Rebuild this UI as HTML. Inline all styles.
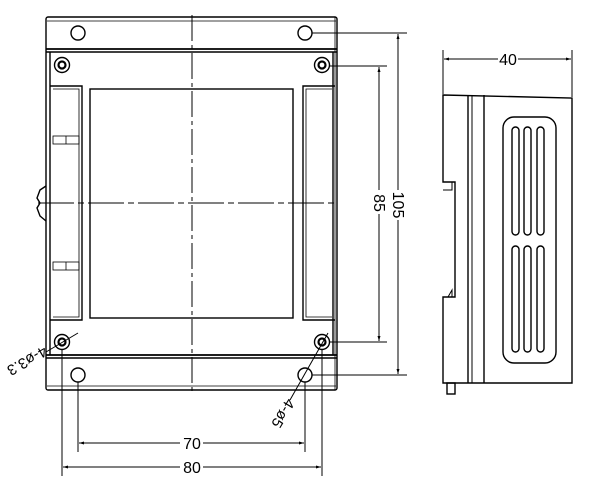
<!DOCTYPE html>
<html><head><style>html,body{margin:0;padding:0;background:#fff}svg{display:block}</style></head>
<body>
<svg width="600" height="487" viewBox="0 0 600 487" xmlns="http://www.w3.org/2000/svg" font-family="Liberation Sans, sans-serif">
<defs>
<marker id="a" viewBox="0 0 10 10" refX="10" refY="5" markerWidth="7" markerHeight="5" orient="auto-start-reverse"><path d="M0,2 L10,5 L0,8 Z" fill="#000"/></marker>
</defs>
<g fill="none" stroke="#000" stroke-width="1.4">
<rect x="46" y="17" width="291" height="373" rx="2"/>
<line x1="47" y1="21" x2="336" y2="21" stroke-width="0.8"/>
<line x1="46" y1="49" x2="337" y2="49" stroke-width="1.8"/>
<line x1="46" y1="52" x2="337" y2="52"/>
<line x1="46" y1="355" x2="337" y2="355" stroke-width="1.8"/>
<line x1="46" y1="358" x2="337" y2="358"/>
<line x1="47" y1="386" x2="336" y2="386" stroke-width="0.8"/>
<line x1="50" y1="52" x2="50" y2="355"/>
<line x1="333" y1="52" x2="333" y2="355"/>
<line x1="335" y1="17" x2="335" y2="390" stroke-width="0.8"/>
<path d="M50,86 L82,86 L82,320 L50,320"/>
<path d="M53,89 L79,89 L79,317 L53,317" stroke-width="0.8"/>
<path d="M335,86 L303,86 L303,320 L335,320"/>
<path d="M332,89 L306,89 L306,317 L332,317" stroke-width="0.8"/>
<rect x="53" y="136" width="26" height="8" stroke-width="0.8"/>
<line x1="66" y1="136" x2="66" y2="144" stroke-width="0.8"/>
<rect x="53" y="262" width="26" height="8" stroke-width="0.8"/>
<line x1="66" y1="262" x2="66" y2="270" stroke-width="0.8"/>
<path d="M46,186 L40,190 L37,198 L40,203 L37,208 L40,216 L46,221"/>
<rect x="90" y="89" width="203" height="229"/>
<line x1="192" y1="15" x2="192" y2="392" stroke-width="1" stroke-dasharray="26,4,4,4"/>
<line x1="38" y1="203" x2="337" y2="203" stroke-width="1" stroke-dasharray="36,4,6,4"/>
<circle cx="78" cy="33" r="7"/><circle cx="305" cy="33" r="7"/>
<circle cx="78" cy="375" r="7"/><circle cx="305" cy="375" r="7"/>
<circle cx="62" cy="65" r="7.5"/><circle cx="62" cy="65" r="3.5" stroke-width="2.2"/>
<circle cx="322" cy="65" r="7.5"/><circle cx="322" cy="65" r="3.5" stroke-width="2.2"/>
<circle cx="62" cy="342" r="7.5"/><circle cx="62" cy="342" r="3.5" stroke-width="2.2"/>
<circle cx="322" cy="342" r="7.5"/><circle cx="322" cy="342" r="3.5" stroke-width="2.2"/>
<line x1="78" y1="333" x2="46" y2="352" stroke-width="1"/>
<line x1="328" y1="333" x2="290" y2="400" stroke-width="1"/>
<line x1="312" y1="33" x2="407" y2="33" stroke-width="1"/>
<line x1="312" y1="375" x2="407" y2="375" stroke-width="1"/>
<line x1="330" y1="66" x2="387" y2="66" stroke-width="1"/>
<line x1="330" y1="342" x2="387" y2="342" stroke-width="1"/>
<line x1="398" y1="34" x2="398" y2="190" stroke-width="1" marker-start="url(#a)"/>
<line x1="398" y1="220" x2="398" y2="374" stroke-width="1" marker-end="url(#a)"/>
<line x1="379" y1="67" x2="379" y2="190" stroke-width="1" marker-start="url(#a)"/>
<line x1="379" y1="214" x2="379" y2="341" stroke-width="1" marker-end="url(#a)"/>
<line x1="78" y1="382" x2="78" y2="452" stroke-width="1"/>
<line x1="305" y1="382" x2="305" y2="452" stroke-width="1"/>
<line x1="62" y1="350" x2="62" y2="476" stroke-width="1"/>
<line x1="322" y1="350" x2="322" y2="476" stroke-width="1"/>
<line x1="79" y1="443" x2="180" y2="443" stroke-width="1" marker-start="url(#a)"/>
<line x1="203" y1="443" x2="304" y2="443" stroke-width="1" marker-end="url(#a)"/>
<line x1="63" y1="467" x2="180" y2="467" stroke-width="1" marker-start="url(#a)"/>
<line x1="203" y1="467" x2="321" y2="467" stroke-width="1" marker-end="url(#a)"/>
<path d="M443,95 L572,98 L572,383 L443,383 L443,297 L455,297 L455,182 L443,182 Z"/>
<path d="M443,190 L452,190 L452,182" stroke-width="1"/>
<path d="M448,297 L452,290 L452,297" stroke-width="1"/>
<line x1="468" y1="95" x2="468" y2="383"/>
<line x1="472" y1="95" x2="472" y2="383" stroke-width="1"/>
<line x1="484" y1="95" x2="484" y2="383"/>
<rect x="447" y="383" width="8" height="11"/>
<rect x="503" y="117" width="53" height="246" rx="11"/>
<rect x="512" y="127" width="7" height="108" rx="3.5"/>
<rect x="524" y="127" width="7" height="108" rx="3.5"/>
<rect x="537" y="127" width="7" height="108" rx="3.5"/>
<rect x="512" y="246" width="7" height="106" rx="3.5"/>
<rect x="524" y="246" width="7" height="106" rx="3.5"/>
<rect x="537" y="246" width="7" height="106" rx="3.5"/>
<line x1="443" y1="50" x2="443" y2="94" stroke-width="1"/>
<line x1="572" y1="50" x2="572" y2="97" stroke-width="1"/>
<line x1="444" y1="59" x2="498" y2="59" stroke-width="1" marker-start="url(#a)"/>
<line x1="518" y1="59" x2="571" y2="59" stroke-width="1" marker-end="url(#a)"/>
</g>
<g font-size="16" fill="#000" text-anchor="middle">
<text x="192" y="449">70</text>
<text x="192" y="473">80</text>
<text x="508" y="65">40</text>
<text transform="translate(393,205) rotate(90)">105</text>
<text transform="translate(374,203) rotate(90)">85</text>
<text transform="translate(46,350) rotate(150)" text-anchor="start" font-size="15" dy="5">4-ø3.3</text>
<text transform="translate(291,400) rotate(121)" text-anchor="start" font-size="15" dy="5">4-ø5</text>
</g>
</svg>
</body></html>
